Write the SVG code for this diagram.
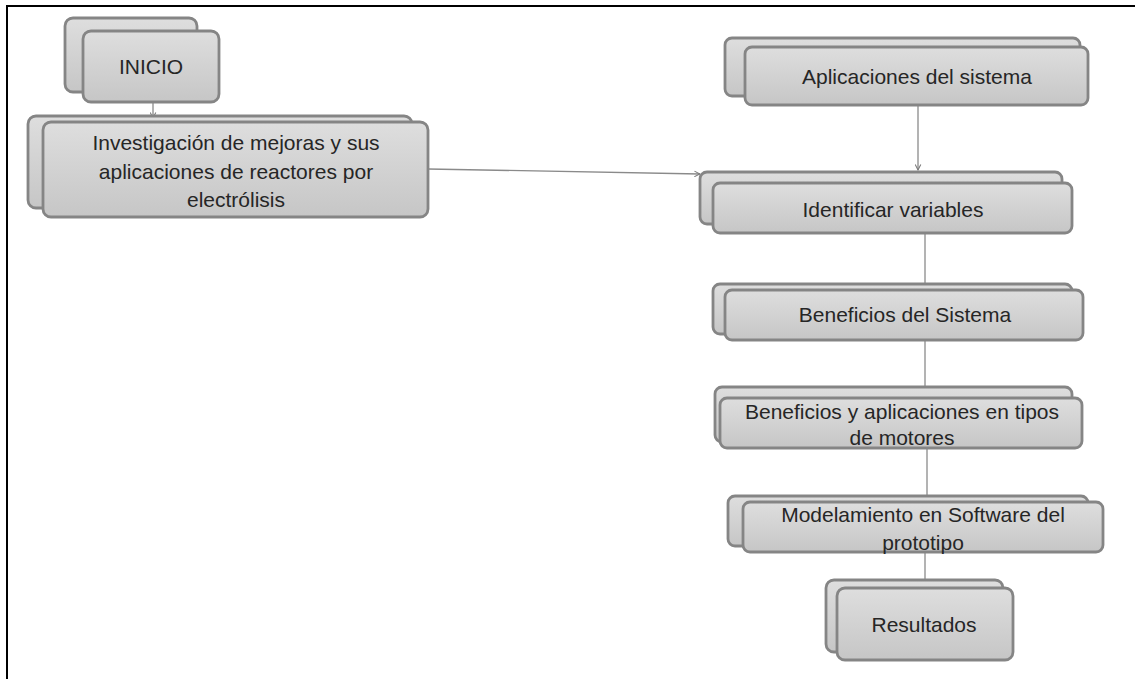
<svg xmlns="http://www.w3.org/2000/svg" width="1135" height="679" viewBox="0 0 1135 679">
  <defs>
    <linearGradient id="boxFill" x1="0" y1="0" x2="0" y2="1">
      <stop offset="0" stop-color="#dedede"/>
      <stop offset="1" stop-color="#c6c6c6"/>
    </linearGradient>
    <marker id="arrow" viewBox="0 0 10 10" refX="9" refY="5" markerWidth="7" markerHeight="7" orient="auto" markerUnits="userSpaceOnUse">
      <path d="M1,1 L9,5 L1,9" fill="none" stroke="#7a7a7a" stroke-width="1.5"/>
    </marker>
  </defs>
  <style>
    .box { fill: url(#boxFill); stroke: #858585; stroke-width: 2.8; }
    .label { font-family: "Liberation Sans", Arial, sans-serif; font-size: 21px; fill: #262626; text-anchor: middle; }
    .conn { fill: none; stroke: #8a8a8a; stroke-width: 1.3; }
  </style>

  <rect width="1135" height="679" fill="#fff"/>
  <!-- page frame: top and left rules only -->
  <path d="M7,679 V6 H1135" fill="none" stroke="#000" stroke-width="2"/>

  <g id="connectors">
    <path class="conn" d="M153,102 V118" marker-end="url(#arrow)"/>
    <path class="conn" d="M428,169 L700,174" marker-end="url(#arrow)"/>
    <path class="conn" d="M918,105 V170" marker-end="url(#arrow)"/>
    <path class="conn" d="M925,233 V287"/>
    <path class="conn" d="M925,340 V390"/>
    <path class="conn" d="M927,448 V500"/>
    <path class="conn" d="M925,552 V585"/>
  </g>

  <g id="node-inicio">
    <rect class="box" x="65" y="18" width="132" height="74" rx="8"/>
    <rect class="box" x="83" y="31" width="136" height="71" rx="8"/>
    <text class="label" x="151" y="74">INICIO</text>
  </g>

  <g id="node-investigacion">
    <rect class="box" x="28" y="116" width="384" height="92" rx="8"/>
    <rect class="box" x="43" y="122" width="385" height="95" rx="8"/>
    <text class="label" x="236" y="150">Investigación de mejoras y sus</text>
    <text class="label" x="236" y="179">aplicaciones de reactores por</text>
    <text class="label" x="236" y="207">electrólisis</text>
  </g>

  <g id="node-aplicaciones">
    <rect class="box" x="725" y="38" width="355" height="58" rx="7"/>
    <rect class="box" x="745" y="47" width="343" height="58" rx="7"/>
    <text class="label" x="917" y="84">Aplicaciones del sistema</text>
  </g>

  <g id="node-identificar">
    <rect class="box" x="700" y="172" width="362" height="52" rx="7"/>
    <rect class="box" x="713" y="183" width="359" height="50" rx="7"/>
    <text class="label" x="893" y="217">Identificar variables</text>
  </g>

  <g id="node-beneficios-sistema">
    <rect class="box" x="713" y="284" width="359" height="50" rx="7"/>
    <rect class="box" x="725" y="290" width="358" height="50" rx="7"/>
    <text class="label" x="905" y="322">Beneficios del Sistema</text>
  </g>

  <g id="node-beneficios-motores">
    <rect class="box" x="715" y="387" width="357" height="55" rx="7"/>
    <rect class="box" x="720" y="398" width="362" height="50" rx="7"/>
    <text class="label" x="902" y="419">Beneficios y aplicaciones en tipos</text>
    <text class="label" x="902" y="445">de motores</text>
  </g>

  <g id="node-modelamiento">
    <rect class="box" x="728" y="496" width="360" height="50" rx="7"/>
    <rect class="box" x="743" y="502" width="360" height="50" rx="7"/>
    <text class="label" x="923" y="522">Modelamiento en Software del</text>
    <text class="label" x="923" y="550">prototipo</text>
  </g>

  <g id="node-resultados">
    <rect class="box" x="826" y="580" width="177" height="72" rx="8"/>
    <rect class="box" x="837" y="588" width="176" height="72" rx="8"/>
    <text class="label" x="924" y="632">Resultados</text>
  </g>
</svg>
